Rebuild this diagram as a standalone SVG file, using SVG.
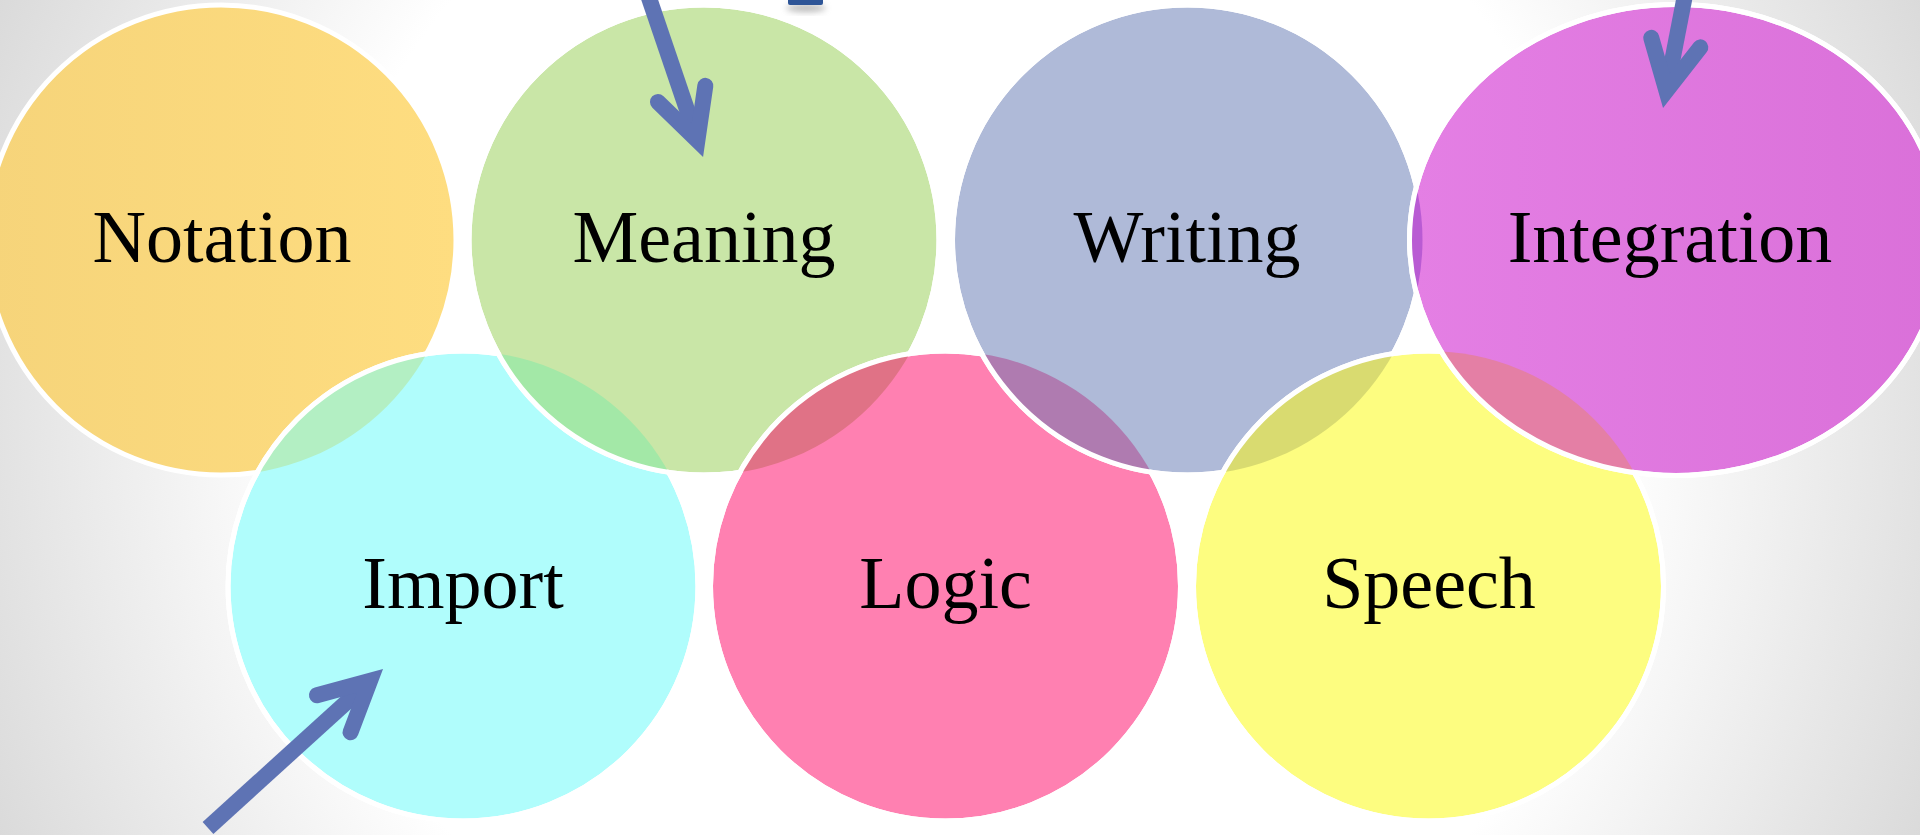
<svg xmlns="http://www.w3.org/2000/svg" width="1920" height="835" viewBox="0 0 1920 835">
<style>
.ring{fill:none;stroke:#fff;stroke-width:5}
.lbl{font-family:"Liberation Serif","Times New Roman",serif;font-size:74px;text-anchor:middle;fill:#000}
.arrow{fill:none;stroke:#5E73B4;stroke-width:16;stroke-linecap:butt}
</style>
<defs>
<radialGradient id="bg" gradientUnits="userSpaceOnUse" cx="960" cy="417" r="1060">
<stop offset="0.62" stop-color="#ffffff"/>
<stop offset="1" stop-color="#d9d9d9"/>
</radialGradient>
<linearGradient id="gNot" x1="0" y1="0" x2="1" y2="0">
<stop offset="0" stop-color="#F6D47A"/>
<stop offset="1" stop-color="#FEDD80"/>
</linearGradient>
<linearGradient id="gInt" x1="0" y1="0" x2="1" y2="0">
<stop offset="0" stop-color="#E47FE4"/>
<stop offset="1" stop-color="#DA70D9"/>
</linearGradient>
<clipPath id="cImport"><circle cx="463" cy="586" r="235"/></clipPath>
<clipPath id="cMeaning"><circle cx="704" cy="240" r="235"/></clipPath>
<clipPath id="cLogic"><circle cx="945.5" cy="586" r="235"/></clipPath>
<clipPath id="cWriting"><circle cx="1187.5" cy="240" r="235"/></clipPath>
<clipPath id="cSpeech"><circle cx="1428.5" cy="586" r="235"/></clipPath>
<clipPath id="cInteg"><ellipse cx="1676" cy="240" rx="266.5" ry="235.5"/></clipPath>
<marker id="chev" markerUnits="userSpaceOnUse" orient="auto" refX="0" refY="0" markerWidth="10" markerHeight="10" style="overflow:visible">
<path d="M-49,-25 L0,0 L-49,25" fill="none" stroke="#5E73B4" stroke-width="16" stroke-linecap="round" stroke-linejoin="miter" stroke-miterlimit="10"/>
</marker>
<filter id="blur" x="-50%" y="-50%" width="200%" height="200%"><feGaussianBlur stdDeviation="3"/></filter>
</defs>

<rect x="0" y="0" width="1920" height="835" fill="url(#bg)"/>

<g id="node-notation">
<circle cx="221" cy="240" r="235" fill="url(#gNot)" stroke="#fff" stroke-width="5"/>
<text class="lbl" x="222" y="262">Notation</text>
</g>

<g id="node-import">
<circle cx="463" cy="586" r="235" fill="#B0FDFC" stroke="#fff" stroke-width="5"/>
<circle cx="221" cy="240" r="235" fill="#B3EFC3" clip-path="url(#cImport)"/>
<circle class="ring" cx="463" cy="586" r="235"/>
<text class="lbl" x="463" y="608">Import</text>
</g>

<g id="node-meaning">
<circle cx="704" cy="240" r="235" fill="#C9E6A7" stroke="#fff" stroke-width="5"/>
<circle cx="463" cy="586" r="235" fill="#A3E8A7" clip-path="url(#cMeaning)"/>
<circle class="ring" cx="704" cy="240" r="235"/>
<text class="lbl" x="704" y="262">Meaning</text>
</g>

<g id="node-logic">
<circle cx="945.5" cy="586" r="235" fill="#FF80B1" stroke="#fff" stroke-width="5"/>
<circle cx="704" cy="240" r="235" fill="#E07286" clip-path="url(#cLogic)"/>
<circle class="ring" cx="945.5" cy="586" r="235"/>
<text class="lbl" x="945.5" y="608">Logic</text>
</g>

<g id="node-writing">
<circle cx="1187.5" cy="240" r="235" fill="#AFBAD8" stroke="#fff" stroke-width="5"/>
<circle cx="945.5" cy="586" r="235" fill="#AF7BB0" clip-path="url(#cWriting)"/>
<circle class="ring" cx="1187.5" cy="240" r="235"/>
<text class="lbl" x="1187" y="262">Writing</text>
</g>

<g id="node-speech">
<circle cx="1428.5" cy="586" r="235" fill="#FDFD80" stroke="#fff" stroke-width="5"/>
<circle cx="1187.5" cy="240" r="235" fill="#D9DB70" clip-path="url(#cSpeech)"/>
<circle class="ring" cx="1428.5" cy="586" r="235"/>
<text class="lbl" x="1429" y="608">Speech</text>
</g>

<g id="node-integration">
<ellipse cx="1676" cy="240" rx="266.5" ry="235.5" fill="url(#gInt)" stroke="#fff" stroke-width="5"/>
<circle cx="1428.5" cy="586" r="235" fill="#E47FA5" clip-path="url(#cInteg)"/>
<circle cx="1187.5" cy="240" r="235" fill="#B95BD3" clip-path="url(#cInteg)"/>
<ellipse class="ring" cx="1676" cy="240" rx="266.5" ry="235.5"/>
<text class="lbl" x="1670" y="262">Integration</text>
</g>

<g id="top-mark">
<ellipse cx="806" cy="8" rx="20" ry="4" fill="#777" opacity="0.5" filter="url(#blur)"/>
<rect x="788" y="-3" width="35" height="8" rx="2" fill="#2E5597"/>
</g>

<g id="connectors">
<path class="arrow" d="M647,-8 L697.4,140.3" marker-end="url(#chev)"/>
<path class="arrow" d="M208,828 L370,680.8" marker-end="url(#chev)"/>
<path class="arrow" d="M1686,-10 L1666.4,90.7" marker-end="url(#chev)"/>
</g>
</svg>
